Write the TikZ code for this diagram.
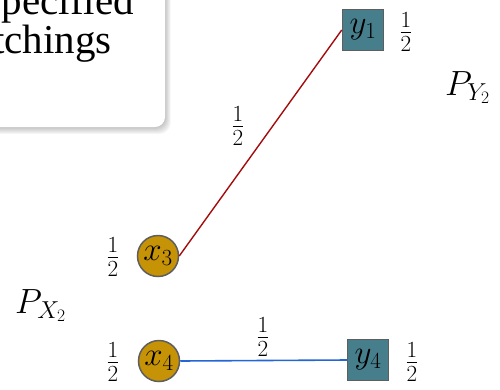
\documentclass[tikz,border=0pt]{standalone}
\usepackage{fix-cm}
\usepackage{fontspec}
\newfontfamily\boxfont{Liberation Serif}
\DeclareFontShape{OML}{cmm}{m}{it}{<-6>cmmi5<6-7>cmmi6<7-8>cmmi7<8-9>cmmi8<9-10>cmmi9<10-12>cmmi10<12->cmmi12}{\skewchar\font=127 }
\DeclareFontShape{OT1}{cmr}{m}{n}{<-6>cmr5<6-7>cmr6<7-8>cmr7<8-9>cmr8<9-10>cmr9<10-12>cmr10<12-17>cmr12<17->cmr17}{}
\definecolor{gold}{HTML}{C69206}
\definecolor{teal2}{HTML}{467F8B}
\definecolor{bord}{HTML}{5E5E5E}
\definecolor{redl}{HTML}{A30C0C}
\definecolor{bluel}{HTML}{2566D6}
\tikzset{
  xnode/.style={circle, fill=gold, draw=bord, line width=1.5pt, minimum size=41pt, inner sep=0pt, font=\fontsize{33}{38}\selectfont},
  ynode/.style={rectangle, fill=teal2, draw=bord, line width=1.5pt, minimum size=41pt, inner sep=0pt, font=\fontsize{33}{38}\selectfont},
  frac/.style={inner sep=0pt, font=\fontsize{33}{40}\selectfont},
  plabel/.style={inner sep=0pt, font=\fontsize{35}{40}\selectfont},
  boxtext/.style={inner sep=0pt, font=\boxfont\fontsize{41}{48}\selectfont},
  redge/.style={draw=redl, line width=1.4pt},
  bedge/.style={draw=bluel, line width=1.6pt}
}
\begin{document}
\begin{tikzpicture}[x=1pt,y=-1pt]
\useasboundingbox (0,0) rectangle (500,389);
\begin{scope}
\clip (0,0) rectangle (500,389);
% shadow layers
\foreach \i in {1,...,7}{
  \fill[black, opacity=0.035, rounded corners=11pt] (-30,-30) rectangle (165+0.8*\i,127+1.0*\i);
}
\fill[white, rounded corners=10pt] (-30,-30) rectangle (165,127);
\node[boxtext, anchor=base east] (t1) at (134,14) {specified};
\node[boxtext, anchor=base east] (t2) at (112,53) {matchings};
\end{scope}

\node[ynode] (y1) at (363,30) {$y_1$};
\node[xnode] (x3) at (158,256) {$x_3$};
\node[xnode] (x4) at (159,361) {$x_4$};
\node[ynode] (y4) at (368,360) {$y_4$};

\draw[redge] (x3.east) -- (y1.west);
\draw[bedge] (x4.east) -- (y4.west);

\node[frac] (fy1) at (406,32) {$\frac{1}{2}$};
\node[frac] (fx3) at (113,257) {$\frac{1}{2}$};
\node[frac] (fx4) at (113,362) {$\frac{1}{2}$};
\node[frac] (fy4) at (412,362) {$\frac{1}{2}$};
\node[frac] (e1) at (238,126) {$\frac{1}{2}$};
\node[frac] (e2) at (263,337) {$\frac{1}{2}$};

\node[plabel, anchor=base west] (py) at (445,95) {$P_{Y_2}$};
\node[plabel, anchor=base west] (px) at (15,313) {$P_{X_2}$};
\end{tikzpicture}
\end{document}
